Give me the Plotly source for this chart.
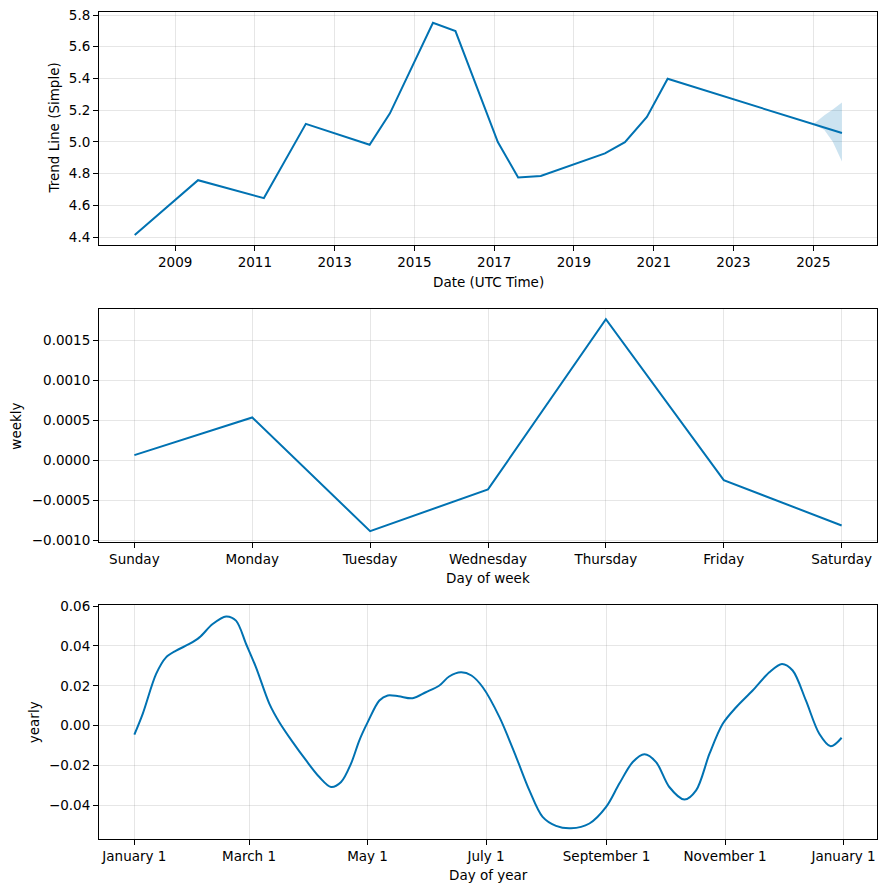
import pandas as pd
import plotly.graph_objects as go

# ---------------- data ----------------
trend_dates = ["2007-12-28", "2009-07-30", "2011-03-25", "2012-04-12", "2013-11-17",
               "2014-05-22", "2015-06-20", "2016-01-12", "2017-02-03", "2017-08-08",
               "2018-03-03", "2019-10-12", "2020-04-12", "2020-10-30", "2021-05-08",
               "2025-01-01", "2025-09-20"]
trend_values = [4.413, 4.759, 4.646, 5.114, 4.982,
                5.180, 5.751, 5.699, 4.999, 4.776,
                4.786, 4.928, 4.999, 5.157, 5.398,
                5.112, 5.056]

band_dates = ["2025-01-01", "2025-04-12", "2025-06-28", "2025-09-20"]
band_upper = [5.112, 5.169, 5.205, 5.249]
band_lower = [5.112, 5.075, 5.001, 4.877]

weekdays = ["Sunday", "Monday", "Tuesday", "Wednesday", "Thursday", "Friday", "Saturday"]
weekly_values = [0.000066, 0.000538, -0.000885, -0.000363, 0.001768, -0.000247, -0.000814]

yearly_days = [0, 4.3, 11.2, 16.3, 21.5, 28.3, 33.5, 40.3, 47.2, 52.3, 57.5, 62.6, 69.5,
               74.6, 81.5, 88.4, 95.2, 101.2, 106.4, 111.5, 115.8, 120.1, 126.1, 130.4,
               136, 143.2, 150, 157, 162, 168.1, 173.5, 179.3, 187.9, 196.5, 203.3, 210.1,
               217, 224.7, 234.2, 242.8, 249.6, 256.5, 262.5, 268.5, 275.3, 283.1, 289.1,
               296, 302.8, 309.7, 318.2, 326.8, 333.3, 338.8, 345.6, 352.5, 358.4, 364]
yearly_values = [-0.0044, 0.006, 0.026, 0.0343, 0.0377, 0.041, 0.0443, 0.051, 0.0548,
                 0.0527, 0.041, 0.0293, 0.011, 0.0018, -0.0082, -0.0174, -0.0257, -0.0307,
                 -0.0282, -0.019, -0.0073, 0.0018, 0.0127, 0.0152, 0.0148, 0.0138, 0.0168,
                 0.0202, 0.0247, 0.0268, 0.0252, 0.0193, 0.0043, -0.0157, -0.0324, -0.0457,
                 -0.0502, -0.0514, -0.049, -0.0407, -0.029, -0.0182, -0.0143, -0.0182,
                 -0.0307, -0.037, -0.0324, -0.014, 0.001, 0.0093, 0.0177, 0.0268, 0.031,
                 0.0277, 0.0127, -0.004, -0.0103, -0.006]

year_ticks = ["2009", "2011", "2013", "2015", "2017", "2019", "2021", "2023", "2025"]
month_tick_dates = ["2017-01-01", "2017-03-01", "2017-05-01", "2017-07-01",
                    "2017-09-01", "2017-11-01", "2018-01-01"]
month_tick_labels = ["January 1", "March 1", "May 1", "July 1",
                     "September 1", "November 1", "January 1"]

# ---------------- figure ----------------
W, H = 886, 892
BLUE = "#0072B2"
FONT = "DejaVu Sans"
GRID = "rgba(128,128,128,0.2)"

def px_x(x):
    return x / W

def px_y(y):
    # map a target pixel row to paper coordinates (compensates the observed capture offset)
    ys = (y - 8.0) / 0.984
    return 1 - ys / H

xdom = [px_x(99), px_x(877)]
ydoms = [[px_y(245), px_y(12)], [px_y(542), px_y(309)], [px_y(839), px_y(605.3)]]

fig = go.Figure()

# Trend band
fig.add_trace(go.Scatter(x=band_dates, y=band_upper, mode="lines", line=dict(width=0),
                         hoverinfo="skip", showlegend=False, xaxis="x", yaxis="y"))
fig.add_trace(go.Scatter(x=band_dates, y=band_lower, mode="lines", line=dict(width=0),
                         fill="tonexty", fillcolor="rgba(0,114,178,0.2)",
                         hoverinfo="skip", showlegend=False, xaxis="x", yaxis="y"))
fig.add_trace(go.Scatter(x=trend_dates, y=trend_values, mode="lines",
                         line=dict(color=BLUE, width=2), showlegend=False,
                         xaxis="x", yaxis="y"))

# Weekly
fig.add_trace(go.Scatter(x=list(range(len(weekdays))), y=weekly_values, mode="lines",
                         line=dict(color=BLUE, width=2), showlegend=False,
                         xaxis="x2", yaxis="y2"))

# Yearly
yearly_x = pd.Timestamp("2017-01-01") + pd.to_timedelta(yearly_days, unit="D")
fig.add_trace(go.Scatter(x=yearly_x, y=yearly_values, mode="lines",
                         line=dict(color=BLUE, width=2, shape="spline", smoothing=0.9),
                         showlegend=False, xaxis="x3", yaxis="y3"))

tick_font = dict(family=FONT, size=13.5, color="black")
common = dict(showline=True, mirror=True, linecolor="black", linewidth=1,
              ticks="outside", ticklen=5, tickwidth=1, tickcolor="black",
              showgrid=True, gridcolor=GRID, gridwidth=1, zeroline=False,
              tickfont=tick_font)

fig.update_layout(
    width=W, height=H,
    margin=dict(l=0, r=0, t=0, b=0),
    paper_bgcolor="white", plot_bgcolor="white",
    font=dict(family=FONT, size=13.5, color="black"),
    xaxis=dict(domain=xdom, anchor="y", type="date",
               range=["2007-02-04", "2026-08-07"],
               tickmode="array", tickvals=[y + "-01-01" for y in year_ticks],
               ticktext=year_ticks, **common),
    yaxis=dict(domain=ydoms[0], anchor="x", range=[4.35, 5.819],
               tickmode="linear", tick0=4.4, dtick=0.2, tickformat=".1f", **common),
    xaxis2=dict(domain=xdom, anchor="y2", range=[-0.3, 6.3],
                tickmode="array", tickvals=list(range(len(weekdays))),
                ticktext=weekdays, **common),
    yaxis2=dict(domain=ydoms[1], anchor="x2", range=[-0.001023, 0.001894],
                tickmode="linear", tick0=0, dtick=0.0005, tickformat=".4f", **common),
    xaxis3=dict(domain=xdom, anchor="y3", type="date",
                range=["2016-12-13 19:12", "2018-01-18 04:48"],
                tickmode="array", tickvals=month_tick_dates,
                ticktext=month_tick_labels, **common),
    yaxis3=dict(domain=ydoms[2], anchor="x3", range=[-0.0569, 0.0603],
                tickmode="linear", tick0=0, dtick=0.02, tickformat=".2f", **common),
)

def label(text, x, y, angle=0):
    fig.add_annotation(text=text, x=px_x(x), y=px_y(y), xref="paper", yref="paper",
                       showarrow=False, textangle=angle, xanchor="center", yanchor="middle",
                       font=dict(family=FONT, size=13.5, color="black"))

label("Date (UTC Time)", 488, 282)
label("Trend Line (Simple)", 54, 128.5, -90)
label("Day of week", 488, 578)
label("weekly", 16, 425.5, -90)
label("Day of year", 488, 875)
label("yearly", 34, 722, -90)

post = (
    "var de=document.documentElement, b=document.body;"
    "[de,b].forEach(function(e){e.style.margin='0';e.style.padding='0';"
    "e.style.overflow='hidden';e.style.width='886px';e.style.height='892px';});"
    "var d=document.getElementById('{plot_id}');"
    "d.style.position='fixed';d.style.top='0px';d.style.left='0px';"
)

fig.write_html("out.html", post_script=post, config={"displayModeBar": False})
